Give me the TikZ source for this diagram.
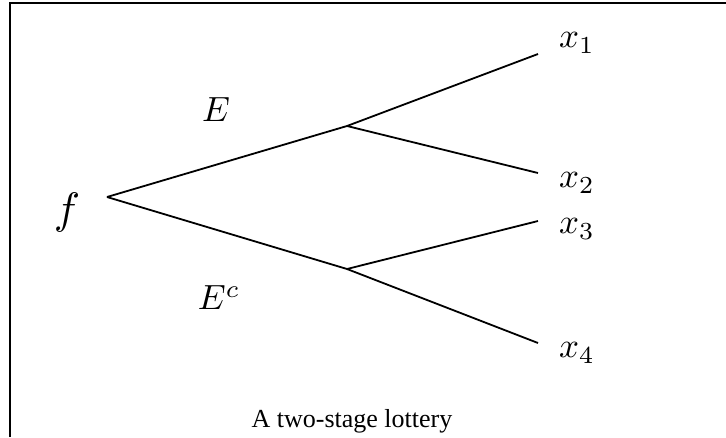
\documentclass[tikz,border=0pt]{standalone}
\usepackage{fontspec}
\newfontfamily\capfont{Liberation Serif}
\newcommand{\mlbl}[1]{\scalebox{3.5}{$#1$}}
\tikzset{
  branch/.style={line width=1.8pt},
  lbl/.style={inner sep=0pt},
}
\begin{document}
\begin{tikzpicture}[x=1pt,y=-1pt]
\useasboundingbox (0,0) rectangle (726,437);
\draw[line width=2pt] (10,437) -- (10,3) -- (726,3);
\coordinate (r) at (107,197);
\coordinate (a) at (347,126);
\coordinate (b) at (347,269);
\coordinate (l1) at (538,54);
\coordinate (l2) at (538,173);
\coordinate (l3) at (538,221);
\coordinate (l4) at (538,343);
\draw[branch] (r) -- (a) -- (l1);
\draw[branch] (a) -- (l2);
\draw[branch] (r) -- (b) -- (l3);
\draw[branch] (b) -- (l4);
\node[lbl] (f) at (67,212) {\scalebox{4.4}{$f$}};
\node[lbl] (E) at (216,110) {\mlbl{E}};
\node[lbl] (Ec) at (219,298) {\mlbl{E^c}};
\node[lbl] (x1) at (577,43) {\mlbl{x_1}};
\node[lbl] (x2) at (577,183) {\mlbl{x_2}};
\node[lbl] (x3) at (577,229) {\mlbl{x_3}};
\node[lbl] (x4) at (577,353) {\mlbl{x_4}};
\node[inner sep=0pt, font=\capfont\fontsize{26}{30}\selectfont] (cap) at (352,421) {A two-stage lottery};
\end{tikzpicture}
\end{document}
